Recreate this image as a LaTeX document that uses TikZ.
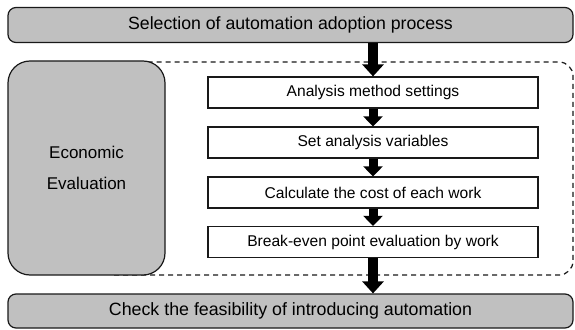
\documentclass[tikz,border=0pt]{standalone}
\usepackage{fontspec}
\setmainfont{Liberation Sans}
\usetikzlibrary{arrows.meta}
\definecolor{boxgray}{RGB}{192,192,192}
\definecolor{edge}{RGB}{25,25,25}
\tikzset{
  graybar/.style={draw=edge, line width=1.2pt, fill=boxgray, rounded corners=8pt,
    inner sep=0pt, minimum width=565pt, minimum height=35pt},
  whitebox/.style={draw=edge, line width=1.2pt, fill=white, inner sep=0pt,
    minimum width=330pt, minimum height=31pt, font=\fontsize{15.6}{18}\selectfont},
  evalbox/.style={draw=edge, line width=1.2pt, fill=boxgray, rounded corners=22pt,
    inner sep=0pt, minimum width=157pt, minimum height=214pt, align=center,
    font=\fontsize{17}{31}\selectfont},
  dashframe/.style={draw=edge, line width=1.2pt, dash pattern=on 5pt off 4pt, rounded corners=14pt},
  bigarrow/.style={draw=black, line width=10pt, -{Triangle[width=21pt,length=12pt]}},
  smallarrow/.style={draw=black, line width=9pt, -{Triangle[width=19pt,length=10pt]}}
}
\begin{document}
\begin{tikzpicture}[x=1pt,y=-1pt]
\useasboundingbox (0,0) rectangle (575,329);
% dashed frame
\coordinate (fa) at (100,62);
\coordinate (fb) at (573,275);
\draw[dashframe] (fa) rectangle (fb);
% boxes
\node[graybar, font=\fontsize{17.7}{20}\selectfont] (top) at (290.5,25) {Selection of automation adoption process};
\node[graybar, minimum height=34pt, font=\fontsize{17.8}{20}\selectfont] (bot) at (290.5,311) {Check the feasibility of introducing automation};
\node[evalbox] (eval) at (86.5,168) {\raisebox{-3pt}{Economic}\\\raisebox{-3pt}{Evaluation}};
\node[whitebox] (b1) at (373,92.5) {Analysis method settings};
\node[whitebox] (b2) at (373,142.5) {Set analysis variables};
\node[whitebox] (b3) at (373,192.5) {Calculate the cost of each work};
\node[whitebox] (b4) at (373,242) {Break-even point evaluation by work};
% arrows
\draw[bigarrow] (top.south -| b1.north) -- (b1.north);
\draw[smallarrow] (b1.south) -- (b2.north);
\draw[smallarrow] (b2.south) -- (b3.north);
\draw[smallarrow] (b3.south) -- (b4.north);
\draw[bigarrow] (b4.south) -- (b4.south |- bot.north);
\end{tikzpicture}
\end{document}
